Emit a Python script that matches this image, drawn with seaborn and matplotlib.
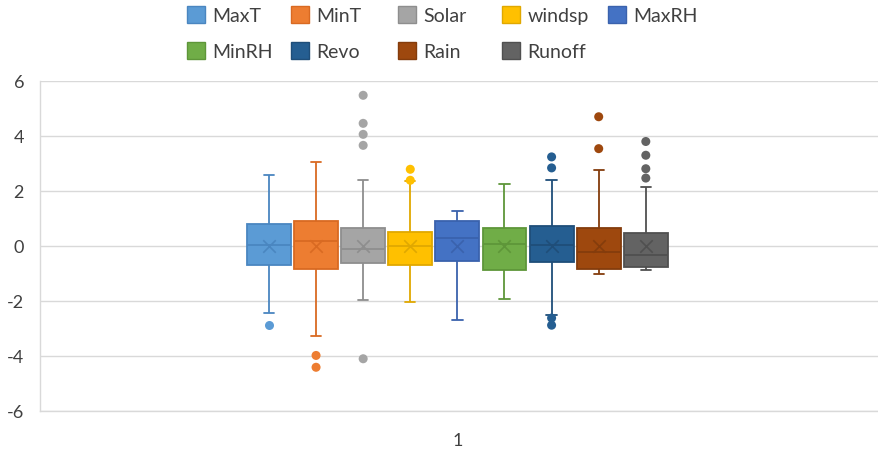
import numpy as np
import pandas as pd
import matplotlib
matplotlib.use("Agg")
import matplotlib.pyplot as plt
from matplotlib.patches import Patch
import seaborn as sns

# five-number summaries (standardised values)
series = ["MaxT", "MinT", "Solar", "windsp", "MaxRH", "MinRH", "Revo", "Rain", "Runoff"]
whisker_low = [-2.42, -3.26, -1.96, -2.04, -2.68, -1.92, -2.50, -1.00, -0.88]
q1 = [-0.69, -0.83, -0.63, -0.70, -0.56, -0.88, -0.57, -0.84, -0.76]
median = [0.02, 0.20, -0.11, -0.01, 0.28, 0.08, 0.04, -0.22, -0.31]
q3 = [0.80, 0.92, 0.65, 0.52, 0.92, 0.64, 0.74, 0.65, 0.47]
whisker_high = [2.58, 3.04, 2.39, 2.35, 1.29, 2.25, 2.39, 2.78, 2.14]
means = [0.0, 0.0, 0.0, 0.0, 0.0, 0.0, 0.0, 0.0, 0.0]

outlier_series = ["MaxT", "MinT", "MinT", "Solar", "Solar", "Solar", "Solar", "Solar",
                  "windsp", "windsp", "Revo", "Revo", "Revo", "Revo",
                  "Rain", "Rain", "Runoff", "Runoff", "Runoff", "Runoff"]
outlier_values = [-2.87, -3.98, -4.41, 5.48, 4.46, 4.06, 3.66, -4.10,
                  2.79, 2.39, 3.24, 2.84, -2.62, -2.88,
                  4.70, 3.54, 3.80, 3.30, 2.81, 2.47]

fill_colors = ["#5B9BD5", "#ED7D31", "#A5A5A5", "#FFC000", "#4472C4",
               "#70AD47", "#255E91", "#9E480E", "#636363"]
edge_colors = ["#4A86C0", "#D96A22", "#8E8E8E", "#E0A800", "#3A62AD",
               "#5E9639", "#1F4E79", "#843C0C", "#505050"]

sns.set_theme(style="white")
plt.rcParams["font.family"] = ["Lato", "DejaVu Sans"]
plt.rcParams["axes.unicode_minus"] = False

box_df = pd.DataFrame({
    "series": np.repeat(series, 5),
    "value": np.column_stack([whisker_low, q1, median, q3, whisker_high]).ravel(),
})

fig = plt.figure(figsize=(8.79, 4.52), dpi=100)
ax = fig.add_axes([40 / 879, 1 - 412 / 452, 839 / 879, 330 / 452])

sns.boxplot(data=box_df, x="series", y="value", hue="series", order=series,
            hue_order=series, palette=fill_colors, saturation=1, width=0.93,
            whis=(0, 100), showfliers=False, linewidth=1.3, legend=False, ax=ax)

# excel style: edges / whiskers in a darker tone of each fill, short caps
for cont, ec in zip(ax.containers, edge_colors):
    for b in cont.boxes:
        b.set_edgecolor(ec)
    for ln in list(cont.whiskers) + list(cont.medians):
        ln.set_color(ec)
    for ln in cont.caps:
        ln.set_color(ec)
        xs = ln.get_xdata()
        c = (xs[0] + xs[1]) / 2
        ln.set_xdata([c - 0.11, c + 0.11])

sns.stripplot(x=series, y=means, hue=series, order=series, hue_order=series,
              palette=edge_colors, marker="x", size=9, linewidth=1.2,
              jitter=False, legend=False, ax=ax, zorder=5)

sns.stripplot(x=outlier_series, y=outlier_values, hue=outlier_series,
              order=series, hue_order=series, palette=fill_colors, size=6.5,
              linewidth=0, jitter=False, legend=False, ax=ax, zorder=5)

ax.set_ylim(-6, 6)
ax.set_yticks(range(-6, 7, 2))
ax.set_xlim(-4.86, 12.95)
ax.set_xticks([4])
ax.set_xticklabels(["1"])
ax.set_xlabel("")
ax.set_ylabel("")
ax.yaxis.grid(True, color="#D9D9D9", linewidth=1)
ax.set_axisbelow(True)
for side in ["top", "right"]:
    ax.spines[side].set_visible(False)
for side in ["left", "bottom"]:
    ax.spines[side].set_color("#D9D9D9")
    ax.spines[side].set_linewidth(1)
ax.tick_params(axis="y", length=0, labelsize=13, labelcolor="#404040", pad=11.5)
ax.tick_params(axis="x", length=0, labelsize=13, labelcolor="#404040", pad=15)

# legend laid out like excel: equal-width columns, two rows
legend_x = [187, 291, 398, 502, 608, 187, 291, 398, 502]
legend_y = [16, 16, 16, 16, 16, 52, 52, 52, 52]
for name, fc, ec, lx, ly in zip(series, fill_colors, edge_colors, legend_x, legend_y):
    fig.legend(handles=[Patch(facecolor=fc, edgecolor=ec, linewidth=1)], labels=[name],
               loc="center left", bbox_to_anchor=(lx / 879, 1 - ly / 452),
               frameon=False, borderpad=0, borderaxespad=0, handlelength=0.95,
               handleheight=0.95, handletextpad=0.35, fontsize=14,
               labelcolor="#404040")

fig.savefig("out.png", dpi=100)
